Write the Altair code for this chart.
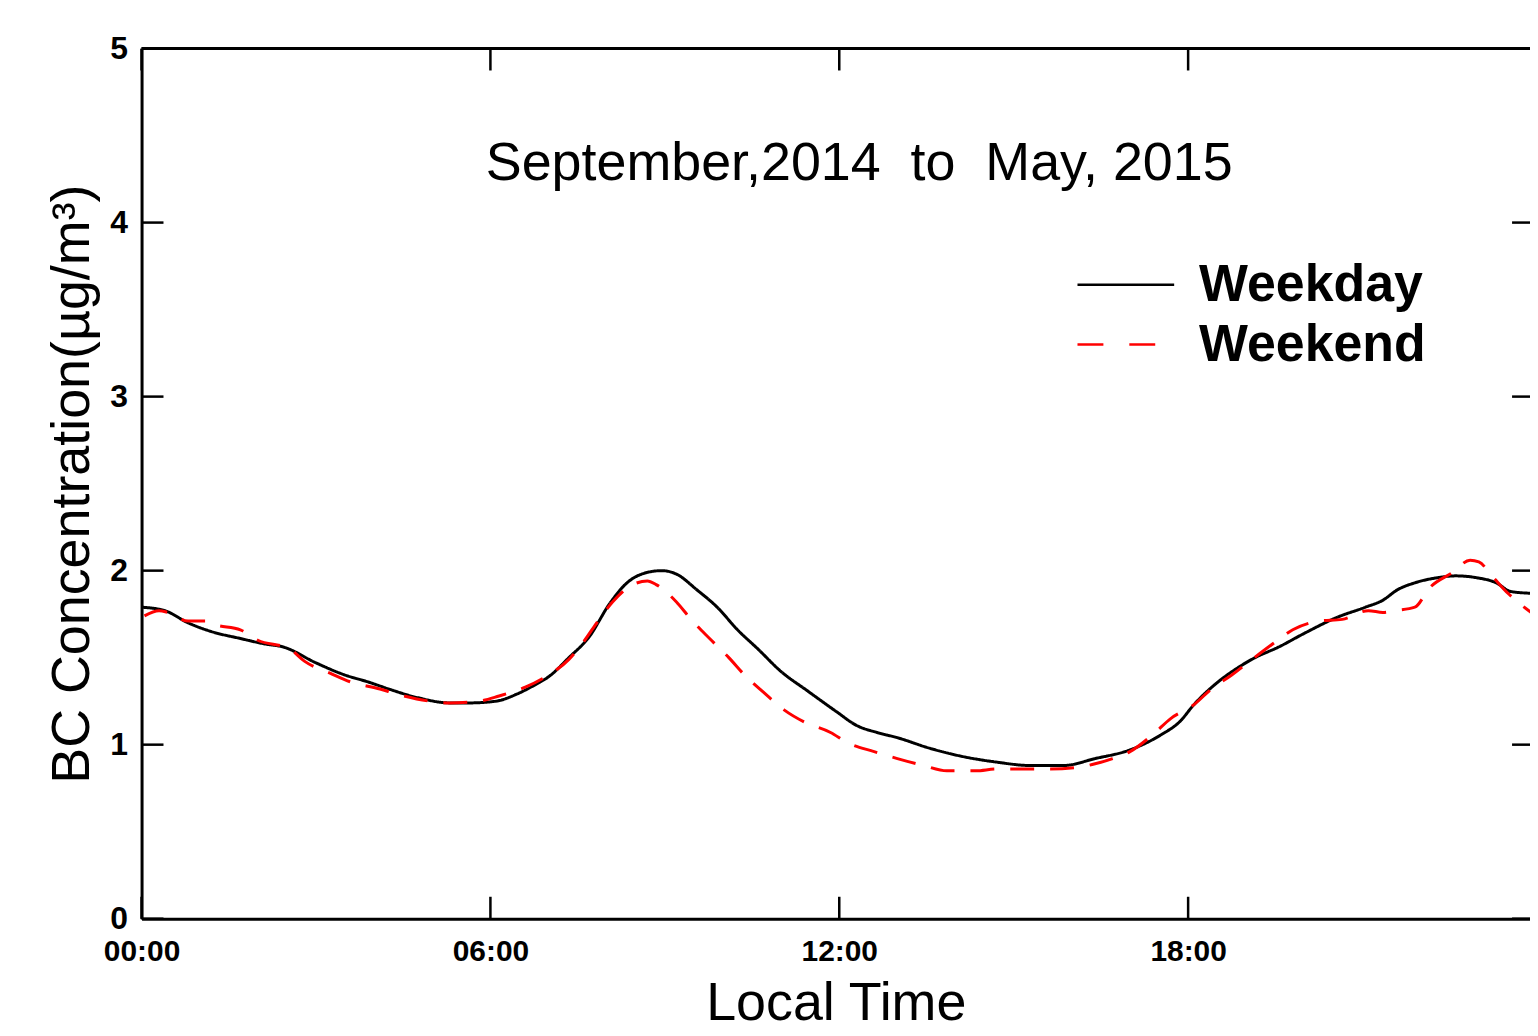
import altair as alt
import pandas as pd

weekday_hours = [0, 0.4, 0.8, 1.2, 1.7, 2.1, 2.45, 3.0, 3.5, 3.9, 4.25, 4.75, 5.3, 5.65,
                 6.1, 6.45, 6.8, 7.0, 7.35, 7.7, 8.05, 8.35, 8.7, 8.95, 9.2, 9.55, 9.9,
                 10.25, 10.6, 11.0, 11.45, 11.95, 12.3, 12.65, 13.0, 13.55, 14.15, 14.7,
                 15.3, 15.85, 16.4, 17.0, 17.55, 17.85, 18.1, 18.55, 18.8, 19.15, 19.55,
                 20.0, 20.55, 21.05, 21.35, 21.6, 21.9, 22.3, 22.6, 22.95, 23.3, 23.55, 23.9]
weekday_bc = [1.79, 1.77, 1.70, 1.65, 1.61, 1.58, 1.56, 1.47, 1.40, 1.36, 1.32, 1.27, 1.24, 1.24,
              1.25, 1.29, 1.35, 1.39, 1.50, 1.62, 1.81, 1.93, 1.99, 2.00, 1.98, 1.89, 1.79,
              1.66, 1.55, 1.42, 1.31, 1.19, 1.11, 1.07, 1.04, 0.98, 0.93, 0.90,
              0.88, 0.88, 0.92, 0.97, 1.06, 1.13, 1.23, 1.37, 1.43, 1.50, 1.56,
              1.64, 1.73, 1.79, 1.83, 1.89, 1.93, 1.96, 1.97, 1.96, 1.93, 1.88, 1.87]

weekend_hours = [0.05, 0.3, 0.45, 0.8, 1.1, 1.25, 1.7, 2.0, 2.55, 2.8, 3.25, 3.6, 4.1, 4.4,
                 4.95, 5.3, 5.8, 6.15, 6.6, 6.95, 7.35, 7.6, 7.85, 8.1, 8.45, 8.7, 8.85,
                 9.2, 9.45, 9.8, 10.1, 10.4, 10.7, 11.05, 11.4, 11.85, 12.15, 12.6, 13.0,
                 13.45, 13.85, 14.35, 14.7, 15.2, 15.6, 16.1, 16.4, 16.7, 17.0, 17.4, 17.7,
                 18.1, 18.4, 18.75, 19.1, 19.5, 19.8, 20.25, 20.65, 21.1, 21.35, 21.55,
                 21.9, 22.15, 22.55, 22.85, 23.0, 23.25, 23.5, 23.9]
weekend_bc = [1.74, 1.77, 1.76, 1.71, 1.71, 1.69, 1.66, 1.60, 1.55, 1.48, 1.41, 1.36, 1.32, 1.29,
              1.25, 1.24, 1.25, 1.28, 1.33, 1.39, 1.49, 1.59, 1.71, 1.82, 1.92, 1.94, 1.92,
              1.82, 1.72, 1.60, 1.50, 1.39, 1.30, 1.20, 1.13, 1.07, 1.01, 0.96, 0.92,
              0.88, 0.85, 0.85, 0.86, 0.86, 0.86, 0.87, 0.89, 0.92, 0.96, 1.06, 1.15,
              1.23, 1.32, 1.40, 1.49, 1.59, 1.66, 1.71, 1.72, 1.77, 1.76, 1.77,
              1.79, 1.90, 1.99, 2.06, 2.05, 1.96, 1.87, 1.76]

series_names = ["Weekday", "Weekend"]
x_tick_hours = [0, 6, 12, 18]
y_tick_values = [0, 1, 2, 3, 4, 5]
title_text = "September,2014\u00a0\u00a0to\u00a0\u00a0May, 2015"

W, H = 1393, 873
X_MAX = 23.88
FONT = "Liberation Sans"
COLORS = ["black", "#ff0000"]
DASHES = [[1, 0], [24, 16]]

df = pd.concat([
    pd.DataFrame({"hour": weekday_hours, "bc": weekday_bc, "series": series_names[0]}),
    pd.DataFrame({"hour": weekend_hours, "bc": weekend_bc, "series": series_names[1]}),
])

x_scale = alt.Scale(domain=[0, X_MAX], nice=False, zero=False)
y_scale = alt.Scale(domain=[0, 5], nice=False)

lines = alt.Chart(df).mark_line(strokeWidth=3, interpolate="monotone").encode(
    x=alt.X("hour:Q", scale=x_scale, axis=alt.Axis(
        values=x_tick_hours,
        labelExpr="(datum.value < 10 ? '0' : '') + datum.value + ':00'",
        ticks=False, grid=False, domainWidth=3, domainColor="black",
        labelFontSize=30, labelFont=FONT, labelColor="black", labelPadding=18,
        labelFontWeight="bold", labelFlush=False,
        title="Local Time", titleFontSize=54, titleFont=FONT, titleFontWeight="normal",
        titleColor="black", titlePadding=10)),
    y=alt.Y("bc:Q", scale=y_scale, axis=alt.Axis(
        values=y_tick_values, format="d", ticks=False, grid=False, domainWidth=3,
        domainColor="black", labelFontSize=32, labelFont=FONT, labelColor="black",
        labelFontWeight="bold", labelPadding=14,
        title="BC Concentration(µg/m³)", titleFontSize=54, titleFont=FONT,
        titleFontWeight="normal", titleColor="black", titlePadding=10)),
    color=alt.Color("series:N", scale=alt.Scale(domain=series_names, range=COLORS), legend=None),
    strokeDash=alt.StrokeDash("series:N", scale=alt.Scale(domain=series_names, range=DASHES),
                              legend=None),
)

ytick_df = pd.DataFrame({"v": y_tick_values})
xtick_df = pd.DataFrame({"h": x_tick_hours})

left_ticks = alt.Chart(ytick_df).mark_rule(color="black", strokeWidth=2.5).encode(
    y=alt.Y("v:Q", scale=y_scale), x=alt.value(0), x2=alt.value(22))
right_ticks = alt.Chart(ytick_df).mark_rule(color="black", strokeWidth=2.5).encode(
    y=alt.Y("v:Q", scale=y_scale), x=alt.value(W - 18), x2=alt.value(W))
bottom_ticks = alt.Chart(xtick_df).mark_rule(color="black", strokeWidth=2.5).encode(
    x=alt.X("h:Q", scale=x_scale), y=alt.value(H - 22), y2=alt.value(H))
top_ticks = alt.Chart(xtick_df).mark_rule(color="black", strokeWidth=2.5).encode(
    x=alt.X("h:Q", scale=x_scale), y=alt.value(0), y2=alt.value(22))

title_df = pd.DataFrame({"t": [title_text]})
top_frame = alt.Chart(title_df).mark_rule(color="black", strokeWidth=3).encode(
    x=alt.value(0), x2=alt.value(W), y=alt.value(0))
title = alt.Chart(title_df).mark_text(
    fontSize=54, font=FONT, color="black", align="center", baseline="middle").encode(
    text="t:N", x=alt.value(720), y=alt.value(116))

# manual legend
legend_layers = []
leg_rows = [(series_names[0], COLORS[0], DASHES[0], 97, 237),
            (series_names[1], COLORS[1], [26, 26], 79, 297)]
for name, col, dash, length, yy in leg_rows:
    ldf = pd.DataFrame({"name": [name]})
    legend_layers.append(
        alt.Chart(ldf).mark_rule(color=col, strokeWidth=2.5, strokeDash=dash).encode(
            x=alt.value(939), x2=alt.value(939 + length), y=alt.value(yy)))
    legend_layers.append(
        alt.Chart(ldf).mark_text(fontSize=52, font=FONT, fontWeight="bold", color="black",
                                 align="left", baseline="middle").encode(
            text="name:N", x=alt.value(1061), y=alt.value(yy)))

chart = alt.layer(
    top_frame, left_ticks, right_ticks, bottom_ticks, top_ticks, lines, title, *legend_layers
).properties(
    width=W, height=H,
    autosize=alt.AutoSizeParams(type="none"),
    padding={"left": 134, "top": 39, "right": 0, "bottom": 115},
).configure_view(stroke=None).configure(background="white")

chart.save("out.html", embed_options={"renderer": "svg", "actions": False})
